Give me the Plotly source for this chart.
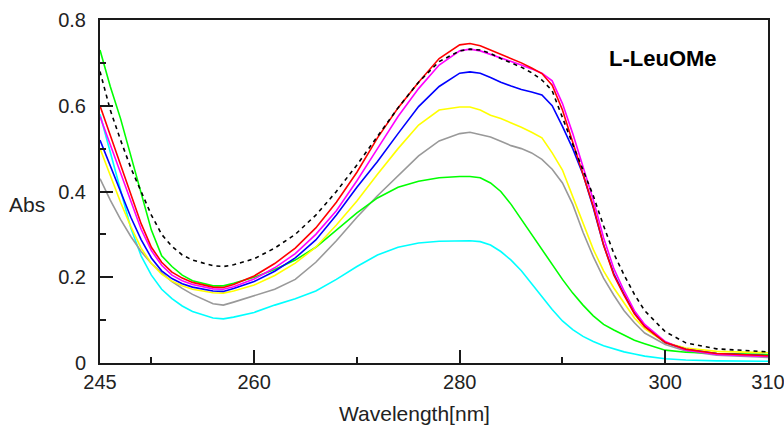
import plotly.graph_objects as go

wavelength = [245, 246, 247, 248, 249, 250, 251, 252, 253, 254, 256, 257, 258, 260, 262, 264, 266, 268, 270,
              272, 274, 276, 278, 280, 281, 282, 283, 284, 285, 286, 287, 288, 289, 290, 291, 292, 293, 294,
              295, 296, 297, 298, 300, 302, 305, 310]

abs_cyan = [0.580, 0.490, 0.400, 0.315, 0.250, 0.205, 0.172, 0.150, 0.133, 0.120, 0.105, 0.103, 0.107, 0.118,
            0.135, 0.150, 0.168, 0.195, 0.225, 0.252, 0.270, 0.280, 0.284, 0.285, 0.285, 0.283, 0.275, 0.260,
            0.240, 0.215, 0.185, 0.155, 0.125, 0.098, 0.078, 0.062, 0.050, 0.040, 0.033, 0.026, 0.021, 0.016,
            0.010, 0.007, 0.005, 0.004]
abs_gray = [0.430, 0.380, 0.335, 0.295, 0.260, 0.232, 0.210, 0.190, 0.174, 0.160, 0.138, 0.135, 0.142, 0.157,
            0.172, 0.195, 0.235, 0.285, 0.340, 0.390, 0.437, 0.483, 0.518, 0.535, 0.538, 0.533, 0.527, 0.517,
            0.507, 0.500, 0.490, 0.475, 0.452, 0.420, 0.370, 0.305, 0.248, 0.198, 0.158, 0.122, 0.094, 0.070,
            0.043, 0.028, 0.018, 0.013]
abs_green = [0.730, 0.645, 0.570, 0.485, 0.395, 0.310, 0.250, 0.225, 0.205, 0.192, 0.180, 0.180, 0.186, 0.200,
             0.218, 0.240, 0.270, 0.310, 0.350, 0.385, 0.410, 0.424, 0.432, 0.435, 0.435, 0.432, 0.420, 0.400,
             0.370, 0.335, 0.300, 0.262, 0.228, 0.195, 0.163, 0.135, 0.110, 0.090, 0.077, 0.065, 0.053, 0.045,
             0.030, 0.025, 0.022, 0.020]
abs_yellow = [0.500, 0.435, 0.375, 0.318, 0.268, 0.232, 0.207, 0.191, 0.180, 0.172, 0.164, 0.163, 0.168, 0.182,
              0.204, 0.233, 0.270, 0.322, 0.378, 0.440, 0.500, 0.555, 0.590, 0.597, 0.597, 0.590, 0.578, 0.570,
              0.560, 0.550, 0.538, 0.525, 0.490, 0.450, 0.388, 0.328, 0.265, 0.215, 0.175, 0.140, 0.105, 0.080,
              0.048, 0.035, 0.027, 0.024]
abs_blue = [0.520, 0.460, 0.400, 0.340, 0.288, 0.245, 0.215, 0.197, 0.185, 0.177, 0.168, 0.167, 0.174, 0.190,
            0.214, 0.245, 0.287, 0.345, 0.410, 0.470, 0.535, 0.598, 0.645, 0.676, 0.679, 0.676, 0.666, 0.655,
            0.646, 0.638, 0.632, 0.625, 0.600, 0.552, 0.500, 0.440, 0.362, 0.275, 0.208, 0.160, 0.117, 0.086,
            0.048, 0.032, 0.022, 0.017]
abs_magenta = [0.575, 0.510, 0.445, 0.375, 0.312, 0.262, 0.228, 0.205, 0.192, 0.183, 0.173, 0.172, 0.178, 0.196,
               0.222, 0.255, 0.300, 0.355, 0.425, 0.500, 0.575, 0.640, 0.695, 0.728, 0.732, 0.728, 0.720, 0.712,
               0.704, 0.695, 0.686, 0.676, 0.658, 0.605, 0.535, 0.460, 0.380, 0.292, 0.220, 0.168, 0.122, 0.090,
               0.050, 0.030, 0.020, 0.015]
abs_red = [0.600, 0.530, 0.460, 0.390, 0.325, 0.270, 0.235, 0.212, 0.198, 0.188, 0.177, 0.176, 0.183, 0.203,
           0.232, 0.268, 0.315, 0.375, 0.445, 0.525, 0.595, 0.655, 0.710, 0.742, 0.745, 0.740, 0.730, 0.720,
           0.710, 0.700, 0.688, 0.675, 0.648, 0.590, 0.515, 0.440, 0.365, 0.275, 0.205, 0.158, 0.115, 0.085,
           0.048, 0.032, 0.022, 0.017]
abs_dashed = [0.680, 0.590, 0.520, 0.455, 0.400, 0.345, 0.300, 0.272, 0.252, 0.240, 0.227, 0.225, 0.229, 0.243,
              0.268, 0.300, 0.345, 0.400, 0.462, 0.530, 0.595, 0.655, 0.703, 0.728, 0.732, 0.730, 0.722, 0.710,
              0.700, 0.690, 0.677, 0.660, 0.635, 0.570, 0.510, 0.450, 0.390, 0.320, 0.255, 0.205, 0.160, 0.122,
              0.073, 0.047, 0.033, 0.026]

series = [
    (abs_cyan, "#00FFFF", "solid"),
    (abs_gray, "#999999", "solid"),
    (abs_green, "#00FF00", "solid"),
    (abs_yellow, "#FFFF00", "solid"),
    (abs_blue, "#0000FF", "solid"),
    (abs_magenta, "#FF00FF", "solid"),
    (abs_red, "#FF0000", "solid"),
    (abs_dashed, "#000000", "4px,4px"),
]

x_ticks = [245, 260, 280, 300, 310]
x_minor = [250, 270, 290]
y_ticks = [0, 0.2, 0.4, 0.6, 0.8]
y_ticktext = ["0", "0.2", "0.4", "0.6", "0.8"]
y_minor = [0.1, 0.3, 0.5, 0.7]

fig = go.Figure()
for vals, col, dash in series:
    fig.add_trace(go.Scatter(x=wavelength, y=vals, mode="lines",
                             line=dict(color=col, width=1.6, dash=dash),
                             showlegend=False, hoverinfo="skip"))

axcol = "#1a1a1a"
font_fam = "Arial, Liberation Sans, sans-serif"
fig.update_layout(
    width=784, height=430, autosize=False,
    margin=dict(l=100, r=16, t=20, b=67, pad=0),
    paper_bgcolor="white", plot_bgcolor="white",
    font=dict(family=font_fam, size=20, color="#222222"),
    xaxis=dict(range=[245, 310], tickvals=x_ticks, ticks="inside", ticklen=13, tickwidth=2,
               tickcolor=axcol, showline=True, linewidth=2, linecolor=axcol, mirror=True,
               showgrid=False, zeroline=False, tickfont=dict(size=20), automargin=False,
               ticklabeloverflow="allow",
               minor=dict(tickvals=x_minor, ticks="inside", ticklen=6, tickwidth=2, tickcolor=axcol,
                          showgrid=False)),
    yaxis=dict(range=[0, 0.8], tickvals=y_ticks, ticktext=y_ticktext, ticks="inside", ticklen=13,
               tickwidth=2, tickcolor=axcol, showline=True, linewidth=2, linecolor=axcol, mirror=True,
               showgrid=False, zeroline=False, tickfont=dict(size=20), ticklabelstandoff=8,
               automargin=False, ticklabeloverflow="allow",
               minor=dict(tickvals=y_minor, ticks="inside", ticklen=6, tickwidth=2, tickcolor=axcol,
                          showgrid=False)),
    annotations=[
        dict(text="Abs", x=-0.1093, y=0.463, xref="paper", yref="paper", showarrow=False,
             xanchor="center", yanchor="middle", font=dict(size=21)),
        dict(text="Wavelength[nm]", x=0.4708, y=-0.1468, xref="paper", yref="paper", showarrow=False,
             xanchor="center", yanchor="middle", font=dict(size=21)),
        dict(text="<b>L-LeuOMe</b>", x=0.8428, y=0.889, xref="paper", yref="paper", showarrow=False,
             xanchor="center", yanchor="middle", font=dict(size=22, color="#000000")),
    ],
)

fig.write_html("out.html")
